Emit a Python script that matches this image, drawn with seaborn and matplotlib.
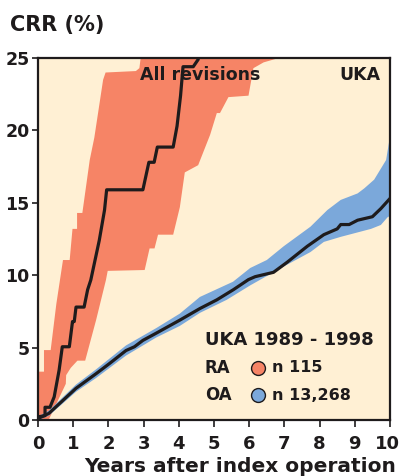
import numpy as np
import matplotlib
matplotlib.use('Agg')
import matplotlib.pyplot as plt
import matplotlib.transforms as mtransforms
import seaborn as sns

# 累积翻修率数据
RA_T = [0, 0.03, 0.2, 0.2, 0.34, 0.46, 0.6, 0.69, 0.89, 0.98, 1.03, 1.08, 1.31, 1.41,
        1.5, 1.74, 1.89, 1.95, 2.98, 3.15, 3.3, 3.39, 3.84, 3.95, 4.05, 4.12, 4.41, 4.55, 4.6]
RA_Y = [0, 0.23, 0.3, 0.88, 0.88, 1.6, 3.45, 5.06, 5.06, 6.8, 6.8, 7.8, 7.8, 9.0,
        9.67, 12.4, 14.5, 15.9, 15.9, 17.8, 17.8, 18.85, 18.85, 20.3, 22.4, 24.4, 24.4, 24.9, 26]

RA_UP_T = [0, 0.17, 0.17, 0.36, 0.52, 0.71, 0.9, 0.98, 1.11, 1.11, 1.26, 1.47, 1.6, 1.85,
           1.92, 2.78, 2.88, 2.97]
RA_UP_Y = [3.34, 3.34, 4.83, 4.83, 8.0, 11.05, 11.05, 13.2, 13.2, 14.3, 14.3, 17.96, 19.5,
           23.5, 24.0, 24.1, 24.3, 26]
RA_LO_T = [0, 0.3, 0.46, 0.79, 0.8, 0.93, 1.12, 1.34, 1.65, 1.93, 1.98, 3.03, 3.17, 3.31,
           3.41, 3.84, 4.03, 4.17, 4.55, 4.89, 5.08, 5.17, 5.41, 5.98, 6.12, 6.41, 6.84, 6.9]
RA_LO_Y = [0, 0, 0.8, 2.5, 3.1, 3.6, 4.1, 4.1, 6.9, 9.67, 10.3, 10.36, 11.85, 11.85,
           12.8, 12.8, 14.7, 17.1, 17.6, 19.7, 21.2, 21.2, 22.3, 22.4, 24.3, 24.7, 25.0, 26]

OA_T = [0, 0.31, 1.08, 1.65, 2.03, 2.5, 2.74, 2.98, 3.36, 4.03, 4.6, 5.08, 5.55, 5.98, 6.17,
        6.69, 7.08, 7.65, 8.12, 8.5, 8.6, 8.84, 9.08, 9.5, 9.74, 10]
OA_Y = [0.1, 0.46, 2.19, 3.2, 3.9, 4.8, 5.06, 5.5, 6.0, 6.9, 7.7, 8.3, 9.0, 9.7, 9.9,
        10.2, 10.9, 12.0, 12.8, 13.2, 13.5, 13.5, 13.8, 14.04, 14.6, 15.3]
OA_UP_T = [0, 0.31, 1.08, 1.65, 2.5, 3.36, 4.03, 4.6, 5.54, 6.03, 6.5, 6.98, 7.74, 8.22,
           8.6, 9.08, 9.27, 9.55, 9.89, 10]
OA_UP_Y = [0.25, 0.65, 2.45, 3.5, 5.15, 6.35, 7.35, 8.5, 9.55, 10.5, 11.05, 12.0, 13.35, 14.5,
           15.2, 15.65, 16.0, 16.6, 17.96, 19.6]
OA_LO_T = [0, 0.31, 1.08, 1.65, 2.5, 3.36, 4.03, 4.6, 5.36, 6.03, 6.98, 7.74, 8.12, 8.6,
           9.46, 9.74, 9.93, 10]
OA_LO_Y = [0, 0.3, 1.95, 2.9, 4.45, 5.7, 6.5, 7.4, 8.3, 9.3, 10.6, 11.6, 12.3, 12.65,
           13.2, 13.47, 14.0, 14.1]

X_TICKS = list(range(0, 11))
Y_TICKS = [0, 5, 10, 15, 20, 25]

BG = '#FFF0D4'
SALMON = '#F68466'
BLUE = '#7BA8DA'
DARK = '#1E1B1C'

sns.set_style('ticks')
plt.rcParams['font.family'] = ['DejaVu Sans']
plt.rcParams['font.weight'] = 'bold'

fig = plt.figure(figsize=(4, 4.76), dpi=100)
ax = fig.add_axes([0.095, 0.1176, 0.88, 0.7605])
ax.set_facecolor(BG)

# 置信区间带
ax.fill(RA_UP_T + RA_LO_T[::-1], RA_UP_Y + RA_LO_Y[::-1], color=SALMON, lw=0, zorder=1)
ax.fill(OA_UP_T + OA_LO_T[::-1], OA_UP_Y + OA_LO_Y[::-1], color=BLUE, lw=0, zorder=1)

sns.lineplot(x=RA_T, y=RA_Y, ax=ax, sort=False, estimator=None, color=DARK, lw=2.3, zorder=3)
sns.lineplot(x=OA_T, y=OA_Y, ax=ax, sort=False, estimator=None, color=DARK, lw=2.3, zorder=3)

ax.set_xlim(0, 10)
ax.set_ylim(0, 25)
ax.set_xticks(X_TICKS)
ax.set_yticks(Y_TICKS)
ax.tick_params(axis='x', length=5, width=1.2, color=DARK, pad=6, labelsize=13, labelcolor=DARK)
ax.tick_params(axis='y', length=4, width=1.2, color=DARK, pad=2, labelsize=12.5, labelcolor=DARK)
for lab in ax.get_xticklabels() + ax.get_yticklabels():
    lab.set_fontweight('bold')
# 最后一个刻度标签稍微左移，避免被裁掉
last = ax.get_xticklabels()[-1]
last.set_transform(last.get_transform() + mtransforms.ScaledTranslation(-3 / 100, 0, fig.dpi_scale_trans))
for sp in ax.spines.values():
    sp.set_visible(True)
    sp.set_color(DARK)
    sp.set_linewidth(1.6)
ax.set_xlabel('')
ax.set_ylabel('')

ax.text(0.29, 0.953, 'All revisions', transform=ax.transAxes, ha='left', va='center',
        fontsize=12.5, fontweight='bold', color=DARK, zorder=5)
ax.text(0.972, 0.953, 'UKA', transform=ax.transAxes, ha='right', va='center',
        fontsize=12.5, fontweight='bold', color=DARK, zorder=5)
ax.text(0.474, 0.221, 'UKA 1989 - 1998', transform=ax.transAxes, ha='left', va='center',
        fontsize=13, fontweight='bold', color=DARK, zorder=5)
ax.text(0.474, 0.144, 'RA', transform=ax.transAxes, ha='left', va='center',
        fontsize=12, fontweight='bold', color=DARK, zorder=5)
ax.text(0.474, 0.069, 'OA', transform=ax.transAxes, ha='left', va='center',
        fontsize=12, fontweight='bold', color=DARK, zorder=5)
ax.plot([0.625], [0.144], 'o', ms=10, mfc=SALMON, mec=DARK, mew=1.0, transform=ax.transAxes,
        zorder=5, clip_on=False)
ax.plot([0.625], [0.069], 'o', ms=10, mfc=BLUE, mec=DARK, mew=1.0, transform=ax.transAxes,
        zorder=5, clip_on=False)
ax.text(0.665, 0.144, 'n 115', transform=ax.transAxes, ha='left', va='center',
        fontsize=11.5, fontweight='bold', color=DARK, zorder=5)
ax.text(0.665, 0.069, 'n 13,268', transform=ax.transAxes, ha='left', va='center',
        fontsize=11.5, fontweight='bold', color=DARK, zorder=5)

fig.text(0.025, 0.947, 'CRR (%)', ha='left', va='center', fontsize=15, fontweight='bold', color=DARK)
fig.text(0.6, 1 - 472 / 476, 'Years after index operation', ha='center', va='baseline',
         fontsize=14.5, fontweight='bold', color=DARK)

fig.savefig('out.png', dpi=100, facecolor='white')
